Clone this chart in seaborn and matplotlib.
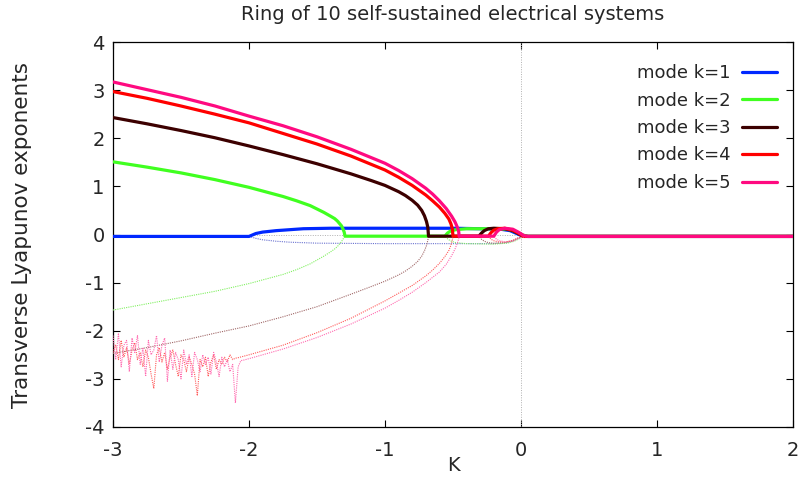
import numpy as np
import pandas as pd
import matplotlib
matplotlib.use("Agg")
import matplotlib.pyplot as plt
import seaborn as sns

# ---- transverse Lyapunov exponents vs coupling K, one pair per mode ----
# mode k=1
k1_hi = [-3.0, -2.0, -1.95, -1.9, -1.8, -1.7, -1.6, -1.4, -1.0, -0.5, -0.3, -0.15, -0.08, -0.04, 0.0, 0.05, 2.0]
lam1_hi = [-0.04, -0.04, 0.02, 0.05, 0.08, 0.10, 0.12, 0.13, 0.13, 0.13, 0.12, 0.11, 0.08, 0.03, -0.02, -0.04, -0.04]
k1_lo = [-2.0, -1.95, -1.9, -1.8, -1.7, -1.5, -1.0, -0.5, -0.2, -0.1, -0.05, 0.0, 0.05]
lam1_lo = [-0.04, -0.08, -0.11, -0.14, -0.16, -0.18, -0.19, -0.19, -0.19, -0.17, -0.12, -0.06, -0.04]

# mode k=2
k2_hi = [-3.0, -2.75, -2.5, -2.25, -2.0, -1.75, -1.65, -1.55, -1.45, -1.4, -1.37, -1.35, -1.32, -1.31, -1.30, -1.294,
         -0.56, -0.54, -0.52, -0.48, -0.4, -0.2, -0.1, -0.05, 0.0, 0.05, 2.0]
lam2_hi = [1.51, 1.40, 1.28, 1.14, 0.98, 0.79, 0.70, 0.60, 0.46, 0.38, 0.33, 0.28, 0.18, 0.12, 0.05, -0.035,
           -0.035, 0.03, 0.07, 0.10, 0.12, 0.12, 0.11, 0.07, 0.0, -0.04, -0.04]
k2_lo = [-3.0, -2.75, -2.5, -2.25, -2.0, -1.75, -1.65, -1.55, -1.45, -1.4, -1.37, -1.35, -1.32, -1.31, -1.294,
         -0.56, -0.54, -0.52, -0.48, -0.4, -0.2, -0.1, -0.05, 0.0, 0.05]
lam2_lo = [-1.57, -1.44, -1.31, -1.18, -1.02, -0.83, -0.73, -0.61, -0.45, -0.36, -0.30, -0.25, -0.15, -0.10, -0.035,
           -0.035, -0.09, -0.13, -0.17, -0.19, -0.20, -0.18, -0.14, -0.07, -0.04]

# mode k=3
k3_hi = [-3.0, -2.75, -2.5, -2.25, -2.0, -1.75, -1.5, -1.25, -1.1, -1.0, -0.9, -0.85, -0.8, -0.76, -0.73, -0.71,
         -0.695, -0.685, -0.68,
         -0.31, -0.29, -0.27, -0.24, -0.2, -0.12, -0.06, -0.02, 0.02, 2.0]
lam3_hi = [2.43, 2.30, 2.16, 2.01, 1.84, 1.66, 1.47, 1.26, 1.12, 1.02, 0.89, 0.81, 0.71, 0.61, 0.50, 0.39,
           0.27, 0.15, -0.035,
           -0.035, 0.03, 0.08, 0.12, 0.13, 0.12, 0.08, 0.02, -0.04, -0.04]
k3_lo = [-3.0, -2.75, -2.5, -2.25, -2.0, -1.75, -1.5, -1.25, -1.1, -1.0, -0.9, -0.85, -0.8, -0.76, -0.73, -0.71,
         -0.695, -0.685, -0.68,
         -0.31, -0.29, -0.27, -0.24, -0.2, -0.12, -0.06, -0.02, 0.02]
lam3_lo = [-2.47, -2.35, -2.21, -2.05, -1.90, -1.71, -1.50, -1.24, -1.08, -0.97, -0.84, -0.76, -0.66, -0.56, -0.45, -0.34,
           -0.23, -0.12, -0.035,
           -0.035, -0.10, -0.14, -0.17, -0.18, -0.17, -0.13, -0.07, -0.04]

# mode k=4
k4_hi = [-3.0, -2.75, -2.5, -2.25, -2.0, -1.75, -1.5, -1.25, -1.0, -0.9, -0.8, -0.7, -0.65, -0.6, -0.56, -0.53,
         -0.515, -0.505, -0.50,
         -0.24, -0.22, -0.20, -0.17, -0.12, -0.06, -0.02, 0.02, 2.0]
lam4_hi = [2.97, 2.83, 2.67, 2.50, 2.32, 2.10, 1.88, 1.63, 1.34, 1.19, 1.02, 0.82, 0.70, 0.57, 0.44, 0.32,
           0.22, 0.12, -0.035,
           -0.035, 0.04, 0.09, 0.12, 0.13, 0.09, 0.03, -0.04, -0.04]
# chaotic stretch of the negative exponent, sampled every 0.02 in K
k4_lo_noisy = np.linspace(-3.0, -2.10, 46)
lam4_lo_noisy = [-2.45, -2.30, -2.60, -2.20, -2.55, -2.35, -2.70, -2.40, -2.25, -2.60,
                 -2.45, -2.75, -2.40, -2.55, -2.90, -3.20, -2.50, -2.35, -2.65, -2.45,
                 -2.80, -2.55, -2.40, -2.70, -2.95, -2.50, -2.60, -2.85, -2.55, -2.70,
                 -2.90, -3.35, -2.60, -2.75, -2.55, -2.95, -2.65, -2.50, -2.80, -2.60,
                 -2.70, -2.55, -2.65, -2.50, -2.60, -2.57]
k4_lo = [-2.08, -2.0, -1.75, -1.5, -1.25, -1.0, -0.9, -0.8, -0.7, -0.65, -0.6, -0.56, -0.53,
         -0.515, -0.505, -0.50,
         -0.24, -0.22, -0.20, -0.17, -0.12, -0.06, -0.02, 0.02]
lam4_lo = [-2.56, -2.50, -2.30, -2.04, -1.74, -1.38, -1.22, -1.06, -0.86, -0.74, -0.60, -0.46, -0.33,
           -0.22, -0.12, -0.035,
           -0.035, -0.10, -0.13, -0.15, -0.16, -0.12, -0.07, -0.04]

# mode k=5
k5_hi = [-3.0, -2.75, -2.5, -2.25, -2.0, -1.75, -1.5, -1.25, -1.0, -0.9, -0.8, -0.7, -0.65, -0.6, -0.55, -0.51,
         -0.485, -0.468, -0.458, -0.455,
         -0.2, -0.18, -0.16, -0.12, -0.06, -0.02, 0.02, 0.05, 2.0]
lam5_hi = [3.17, 3.01, 2.85, 2.67, 2.46, 2.26, 2.03, 1.77, 1.48, 1.33, 1.16, 0.96, 0.84, 0.70, 0.54, 0.38,
           0.26, 0.15, 0.06, -0.035,
           -0.035, 0.05, 0.10, 0.13, 0.11, 0.05, -0.02, -0.04, -0.04]
k5_lo_noisy = np.linspace(-3.0, -2.06, 48)
lam5_lo_noisy = [-2.10, -2.60, -2.05, -2.75, -2.30, -2.20, -2.85, -2.15, -2.45, -2.10,
                 -2.70, -2.35, -2.95, -2.20, -2.50, -2.40, -2.10, -2.65, -2.30, -2.15,
                 -3.05, -2.40, -2.80, -2.45, -2.60, -3.00, -2.40, -2.70, -2.50, -2.95,
                 -2.45, -2.60, -2.85, -2.50, -2.70, -2.55, -2.90, -2.45, -2.65, -2.95,
                 -2.55, -2.75, -2.60, -2.85, -2.70, -3.50, -2.75, -2.62]
k5_lo = [-2.04, -2.0, -1.75, -1.5, -1.25, -1.0, -0.9, -0.8, -0.7, -0.65, -0.6, -0.55, -0.51,
         -0.485, -0.468, -0.458, -0.455,
         -0.2, -0.18, -0.16, -0.12, -0.06, -0.02, 0.02, 0.05]
lam5_lo = [-2.61, -2.58, -2.38, -2.14, -1.86, -1.53, -1.37, -1.20, -1.00, -0.89, -0.78, -0.62, -0.44,
           -0.30, -0.18, -0.09, -0.035,
           -0.035, -0.10, -0.13, -0.15, -0.14, -0.08, -0.05, -0.04]

mode_labels = ["mode k=1", "mode k=2", "mode k=3", "mode k=4", "mode k=5"]
mode_colors = ["#0028ff", "#40ff20", "#3c0000", "#ff0000", "#ff0a80"]
thin_colors = ["#6a72d0", "#80f060", "#a06868", "#ff5a5a", "#ff6ab0"]

upper = [(k1_hi, lam1_hi), (k2_hi, lam2_hi), (k3_hi, lam3_hi), (k4_hi, lam4_hi), (k5_hi, lam5_hi)]
lower = [
    (k1_lo, lam1_lo),
    (k2_lo, lam2_lo),
    (k3_lo, lam3_lo),
    (list(k4_lo_noisy) + k4_lo, lam4_lo_noisy + lam4_lo),
    (list(k5_lo_noisy) + k5_lo, lam5_lo_noisy + lam5_lo),
]

sns.set_theme(style="white")
plt.rcParams["font.family"] = ["DejaVu Sans"]

fig = plt.figure(figsize=(8.03, 4.97), dpi=100)
ax = fig.add_axes([113 / 803, 1 - 427 / 497, 680 / 803, 385 / 497])

# zero axes
ax.axhline(0, color="#b0b0b0", lw=0.7, ls=(0, (1, 1.5)), zorder=1)
ax.axvline(0, color="#b0b0b0", lw=0.7, ls=(0, (1, 1.5)), zorder=1)

for i in range(5):
    kx, ly = upper[i]
    df_hi = pd.DataFrame({"K": kx, "lambda": ly})
    sns.lineplot(data=df_hi, x="K", y="lambda", ax=ax, sort=False, estimator=None,
                 color=mode_colors[i], lw=2.3, label=mode_labels[i], zorder=3 + i)
    kx2, ly2 = lower[i]
    df_lo = pd.DataFrame({"K": kx2, "lambda": ly2})
    sns.lineplot(data=df_lo, x="K", y="lambda", ax=ax, sort=False, estimator=None,
                 color=thin_colors[i], lw=0.8, ls=(0, (1, 1)), zorder=2.5 + i)

ax.set_xlim(-3, 2)
ax.set_ylim(-4, 4)
ax.set_xticks([-3, -2, -1, 0, 1, 2])
ax.set_yticks([-4, -3, -2, -1, 0, 1, 2, 3, 4])
ax.set_xticklabels(["-3", "-2", "-1", "0", "1", "2"])
ax.set_yticklabels(["-4", "-3", "-2", "-1", "0", "1", "2", "3", "4"])
ax.tick_params(direction="in", length=5, width=0.8, color="black",
               top=True, right=True, bottom=True, left=True, labelsize=14)
ax.tick_params(axis="x", pad=10)
ax.tick_params(axis="y", pad=6)
for s in ax.spines.values():
    s.set_color("black")
    s.set_linewidth(0.9)

ax.set_xlabel("K", fontsize=14)
ax.xaxis.set_label_coords(0.5, -0.075)
ax.set_ylabel("Transverse Lyapunov exponents", fontsize=15.5)
ax.yaxis.set_label_coords(-0.119, 0.5)
fig.text(453 / 803, 1 - 14 / 497, "Ring of 10 self-sustained electrical systems",
         ha="center", va="center", fontsize=14)

leg = ax.legend(loc="upper right", bbox_to_anchor=(0.976, 0.942), markerfirst=False,
                frameon=False, fontsize=13, handlelength=1.9, handletextpad=0.65,
                labelspacing=0.52, borderpad=0, borderaxespad=0)

fig.savefig("out.png", dpi=100)
